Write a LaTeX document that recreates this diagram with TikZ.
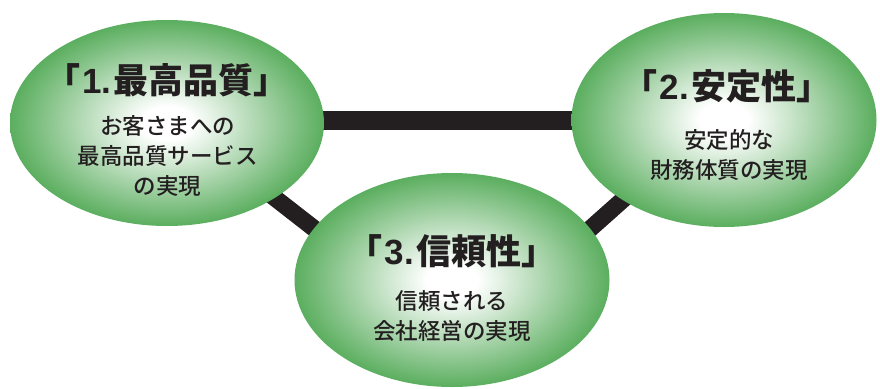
\documentclass[tikz,border=0pt]{standalone}
\usepackage{fontspec}
\setmainfont{Noto Sans CJK JP}[BoldFont={* Bold}]
\newfontfamily\titlefont{Noto Sans CJK JP Black}[RawFeature=+halt]
\newfontfamily\titlelatin{Liberation Sans}[BoldFont={* Bold}]
\newfontfamily\bodyfont{Noto Sans CJK JP Medium}
\usetikzlibrary{shapes.geometric}
\definecolor{ballgreen}{HTML}{5BAE5F}
\definecolor{ink}{HTML}{231F20}
\pgfdeclareradialshading{gball}{\pgfpoint{0bp}{0bp}}{color(0bp)=(white); color(4bp)=(white); color(25bp)=(ballgreen); color(50bp)=(ballgreen)}
\newcommand{\tnum}[1]{\kern2pt{\titlelatin\bfseries #1}\kern2pt}
\tikzset{
  ball/.style={ellipse, inner sep=0pt, shading=gball},
  bar/.style={draw=ink, line width=#1, line cap=butt},
  title/.style={font=\titlefont\fontsize{35}{38}\selectfont, text=ink, inner sep=0pt},
  body/.style={font=\bodyfont\fontsize{22.5}{30}\selectfont, text=ink, align=center, inner sep=0pt}
}
\begin{document}
\begin{tikzpicture}[x=1pt, y=-1pt]
\useasboundingbox (0,0) rectangle (880,388);
% bar anchors (hidden inside the ellipses)
\coordinate (h1) at (300,120);
\coordinate (h2) at (600,120);
\coordinate (l1) at (230,163);
\coordinate (l2) at (325,237);
\coordinate (r1) at (554,261);
\coordinate (r2) at (636,188);
\draw[bar=19pt] (h1) -- (h2);
\draw[bar=17pt] (l1) -- (l2);
\draw[bar=17pt] (r1) -- (r2);
% ellipses
\node[ball, minimum width=314pt, minimum height=206pt] (e1) at (167,123) {};
\node[ball, minimum width=305pt, minimum height=214pt] (e2) at (724,120) {};
\node[ball, minimum width=315pt, minimum height=214pt] (e3) at (452,280) {};
% texts
\node[title] (t1) at (167,80) {「\tnum{1.}最高品質」};
\node[body] (b1) at (167.5,156) {お客さまへの\\最高品質サービス\\の実現};
\node[title] (t2) at (727,86) {「\tnum{2.}安定性」};
\node[body] (b2) at (729,155.5) {安定的な\\財務体質の実現};
\node[title] (t3) at (452,251) {「\tnum{3.}信頼性」};
\node[body] (b3) at (452,316.5) {信頼される\\会社経営の実現};
\end{tikzpicture}
\end{document}
